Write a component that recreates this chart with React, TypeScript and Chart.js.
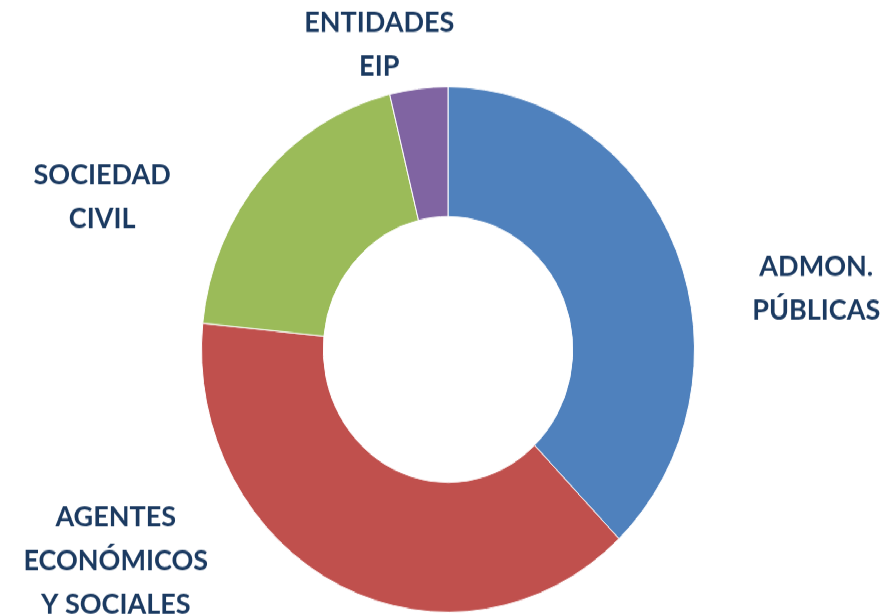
import React, { useEffect, useRef } from "react";
import { Chart, registerables } from "chart.js";

Chart.register(...registerables);

const categories = ["ADMON. PÚBLICAS", "AGENTES ECONÓMICOS Y SOCIALES", "SOCIEDAD CIVIL", "ENTIDADES EIP"];
const labelLines = [["ADMON.", "PÚBLICAS"], ["AGENTES", "ECONÓMICOS", "Y SOCIALES"], ["SOCIEDAD", "CIVIL"], ["ENTIDADES", "EIP"]];
const values = [37.8, 38.8, 19.6, 3.8];
const colors = ["#4F81BD", "#C0504D", "#9BBB59", "#8064A2"];

// label block centres relative to the doughnut centre, in units of the outer radius
const labelAnchors = [
  [1.494, -0.238],
  [-1.348, 0.801],
  [-1.403, -0.587],
  [-0.279, -1.164],
];

const W = 894;
const H = 578;
const SCALE_Y = 616 / 578;

const FONT_SIZE = 27;
const LINE_H = 41;
const TEXT_COLOR = "#1B3A61";

const outerLabels = {
  id: "outerLabels",
  afterDraw(chart: any) {
    const meta = chart.getDatasetMeta(0);
    const arc = meta.data[0];
    if (!arc) return;
    const { x: cx, y: cy, outerRadius: r } = arc.getProps(["x", "y", "outerRadius"], true);
    const ctx = chart.ctx;
    ctx.save();
    ctx.fillStyle = TEXT_COLOR;
    ctx.font = `bold ${FONT_SIZE}px Lato, "Open Sans", sans-serif`;
    ctx.textAlign = "center";
    ctx.textBaseline = "alphabetic";
    const capH = FONT_SIZE * 0.72;
    labelLines.forEach((lines, i) => {
      const [ax, ay] = labelAnchors[i];
      const bx = cx + ax * r;
      const by = cy + ay * r;
      const n = lines.length;
      lines.forEach((t, j) => {
        const ly = by + (j - (n - 1) / 2) * LINE_H;
        ctx.fillText(t, bx, ly + capH / 2);
      });
    });
    ctx.restore();
  },
};

export default function App() {
  const ref = useRef<HTMLCanvasElement>(null);
  useEffect(() => {
    document.body.style.margin = "0";
    const canvas = ref.current!;
    const chart = new Chart(canvas, {
      type: "doughnut",
      data: {
        labels: categories,
        datasets: [
          {
            data: values,
            backgroundColor: colors,
            borderColor: "#ffffff",
            borderWidth: 1,
          },
        ],
      },
      options: {
        responsive: false,
        animation: false,
        cutout: "50.6%",
        rotation: 0,
        layout: { padding: { top: 81, bottom: 3, left: 201, right: 199 } },
        plugins: {
          legend: { display: false },
          tooltip: { enabled: false },
          title: { display: false },
        },
      },
      plugins: [outerLabels],
    });
    return () => chart.destroy();
  }, []);
  return (
    <div
      style={{
        position: "fixed",
        left: 0,
        top: 0,
        width: W,
        height: H,
        transform: `scaleY(${SCALE_Y})`,
        transformOrigin: "0 0",
        background: "#fff",
      }}
    >
      <canvas ref={ref} width={W} height={H} />
    </div>
  );
}
